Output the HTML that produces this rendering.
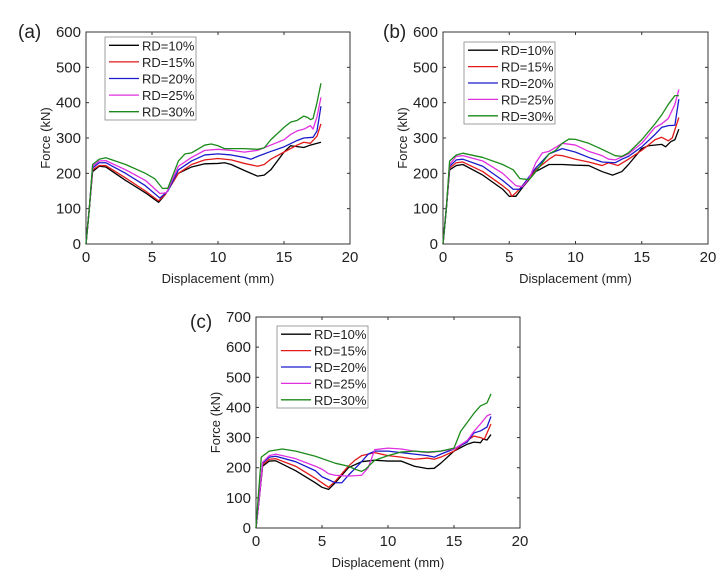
<!DOCTYPE html>
<html><head><meta charset="utf-8"><style>
body{margin:0;background:#fff;width:725px;height:577px;overflow:hidden}
svg text{font-family:"Liberation Sans",Arial,sans-serif;fill:#222}
</style></head><body>
<svg id="fig" width="725" height="577" xmlns="http://www.w3.org/2000/svg"></svg>
<script>
const xTicks=[0,5,10,15,20];
const yTicksAB=[0,100,200,300,400,500,600];
const yTicksC=[0,100,200,300,400,500,600,700];
const seriesNames=["RD=10%","RD=15%","RD=20%","RD=25%","RD=30%"];
const colors=["#000","#e21a1a","#1a1acc","#e030e0","#1a8a1a"];
const a10=[[0,0],[0.25,100],[0.5,205],[1,220],[1.5,218],[3,180],[4.5,145],[5.5,118],[6,140],[7,200],[8,218],[9,227],[10,228],[10.5,230],[11,225],[12,208],[13,192],[13.5,195],[14,210],[15,260],[15.5,278],[16.5,273],[17,280],[17.8,288]];
const a15=[[0,0],[0.25,100],[0.5,210],[1,222],[1.5,222],[3,187],[4.5,150],[5.5,122],[6,140],[7,200],[8,225],[9,238],[10,242],[11,238],[12,228],[13,220],[13.5,225],[14,240],[15,260],[16,280],[16.5,288],[17,285],[17.5,305],[17.8,340]];
const a20=[[0,0],[0.25,100],[0.5,215],[1,230],[1.5,230],[3,200],[4.5,165],[5.6,130],[6.2,150],[7,210],[8,235],[9,252],[10,255],[11,252],[12,245],[12.5,240],[13,248],[14,262],[15,275],[16,293],[16.5,300],[17.2,302],[17.5,320],[17.8,390]];
const a25=[[0,0],[0.25,100],[0.5,220],[1,235],[1.5,236],[3,210],[4.5,180],[5.6,143],[6.1,145],[7,220],[8,245],[9,265],[10,268],[11,265],[12,260],[13,265],[14,280],[15,295],[15.5,310],[16,320],[16.5,325],[17,335],[17.2,325],[17.5,360],[17.8,415]];
const a30=[[0,0],[0.25,100],[0.5,225],[1,240],[1.5,244],[3,225],[4.5,200],[5.2,185],[5.8,157],[6.2,158],[7,235],[7.5,255],[8,258],[9,280],[9.5,283],[10,278],[10.5,270],[12,270],[13,268],[13.5,272],[14,295],[15,330],[15.5,345],[16,350],[16.5,362],[16.8,358],[17,352],[17.2,355],[17.5,400],[17.8,455]];
const b10=[[0,0],[0.25,100],[0.5,210],[1,222],[1.5,225],[3,195],[4.5,155],[5,135],[5.5,135],[6,160],[7,205],[8,225],[9,225],[10,223],[11,222],[12,205],[12.8,195],[13.5,205],[14,225],[15,270],[15.5,278],[16.5,282],[16.8,275],[17.2,290],[17.5,295],[17.8,325]];
const b15=[[0,0],[0.25,100],[0.5,215],[1,230],[1.5,232],[3,205],[4.5,165],[5,150],[5.2,135],[5.5,145],[6,165],[7,210],[8,240],[8.5,252],[9,250],[10,240],[11,232],[12,222],[12.5,230],[13.2,222],[14,240],[15,265],[16,295],[16.5,302],[17,292],[17.3,300],[17.8,358]];
const b20=[[0,0],[0.25,100],[0.5,220],[1,238],[1.5,240],[3,220],[4.5,180],[5.3,155],[5.8,155],[6.5,190],[7,215],[8,255],[9,270],[10,260],[11,245],[12,232],[13,230],[13.5,240],[14,248],[15,275],[16,310],[16.5,330],[17,335],[17.5,336],[17.8,410]];
const b25=[[0,0],[0.25,100],[0.5,225],[1,248],[1.5,250],[3,235],[4.5,200],[5.5,165],[6,162],[6.5,185],[7,230],[7.5,258],[8,262],[9,285],[10,280],[11,262],[12,250],[12.5,240],[13,238],[14,255],[15,285],[16,330],[16.5,340],[17,355],[17.5,395],[17.8,437]];
const b30=[[0,0],[0.25,100],[0.5,235],[1,252],[1.5,257],[3,245],[4.5,225],[5.3,210],[5.8,185],[6.5,182],[7,205],[8,255],[8.5,265],[9,285],[9.5,297],[10,296],[11,285],[12,268],[13,250],[13.5,248],[14,258],[15,295],[16,340],[16.5,365],[17,395],[17.5,420],[17.8,420]];
const c10=[[0,0],[0.25,100],[0.5,205],[1,222],[1.5,223],[3,190],[4.5,150],[5,135],[5.5,128],[6,150],[7,200],[8,220],[9,225],[10,222],[11,222],[12,205],[13,197],[13.5,198],[14,215],[15,255],[16,278],[16.5,285],[17,283],[17.2,295],[17.5,292],[17.8,310]];
const c15=[[0,0],[0.25,100],[0.5,210],[1,228],[1.5,230],[3,205],[4.5,165],[5,150],[5.5,135],[6,155],[7,205],[7.5,225],[8,240],[9,250],[10,240],[11,235],[12,228],[13,232],[13.5,228],[14,235],[15,255],[16,290],[16.5,305],[17,300],[17.3,295],[17.8,345]];
const c20=[[0,0],[0.25,100],[0.5,215],[1,235],[1.5,238],[3,220],[4.5,190],[5,170],[5.5,160],[6,150],[6.5,150],[7,175],[8,220],[8.5,245],[9,255],[10,255],[11,250],[12,245],[13,240],[13.5,235],[14,245],[15,262],[16,285],[16.5,315],[17,322],[17.5,335],[17.8,370]];
const c25=[[0,0],[0.25,100],[0.5,218],[1,240],[1.5,245],[3,230],[4.5,205],[5,195],[5.5,180],[6,175],[7,172],[8,175],[8.5,200],[9,260],[10,265],[11,262],[12,255],[13,250],[13.5,252],[14,255],[15,262],[16,290],[16.5,320],[17,345],[17.5,372],[17.8,378]];
const c30=[[0,0],[0.2,120],[0.4,235],[1,255],[2,262],[3,255],[4.5,238],[6,215],[7,205],[7.5,195],[8,188],[8.3,195],[9,225],[10,240],[11,252],[12,255],[13,252],[14,255],[15,265],[15.5,320],[16,350],[16.5,380],[17,405],[17.5,415],[17.8,445]];

const NS="http://www.w3.org/2000/svg";
const svg=document.getElementById('fig');
function mk(tag,attrs,parent){const e=document.createElementNS(NS,tag);for(const k in attrs)e.setAttribute(k,attrs[k]);(parent||svg).appendChild(e);return e;}

function panel(id,label,L,T,R,B,ymax,yTicks,data,leg,labPos){
  const g=mk('g',{});
  
  
  const sx=v=>L+(v/20)*(R-L);
  const sy=v=>B-(v/ymax)*(B-T);
  const pl=mk('text',{x:labPos[0],y:labPos[1],'font-size':19},g);pl.textContent=label;
  
  
  const box=mk('rect',{x:L,y:T,width:R-L,height:B-T,fill:'none',stroke:'#333','stroke-width':1},g);
  
  
  xTicks.forEach(t=>{
    const x=sx(t);
    mk('line',{x1:x,x2:x,y1:B,y2:B-3,stroke:'#333'},g);
    mk('line',{x1:x,x2:x,y1:T,y2:T+3,stroke:'#333'},g);
    const tx=mk('text',{x:x,y:B+18,'font-size':15,'text-anchor':'middle'},g);tx.textContent=t;
    
    
  });
  yTicks.forEach(t=>{
    const y=sy(t);
    mk('line',{x1:L,x2:L+3,y1:y,y2:y,stroke:'#333'},g);
    mk('line',{x1:R,x2:R-3,y1:y,y2:y,stroke:'#333'},g);
    const tx=mk('text',{x:L-5,y:y+5,'font-size':15,'text-anchor':'end'},g);tx.textContent=t;
    
    
  });
  const xl=mk('text',{x:(L+R)/2,y:B+39,'font-size':13,'text-anchor':'middle'},g);xl.textContent='Displacement (mm)';
  
  
  const yx=L-36,yy=(T+B)/2;
  const yl=mk('text',{x:yx,y:yy,'font-size':13,'text-anchor':'middle',transform:`rotate(-90 ${yx} ${yy})`},g);yl.textContent='Force (kN)';
  
  
  data.forEach((s,i)=>{
    const p=mk('polyline',{points:s.map(d=>sx(d[0])+','+sy(d[1])).join(' '),fill:'none',stroke:colors[i],'stroke-width':1.3,'stroke-linejoin':'round'},g);
    
    
  });
  const lg=mk('g',{},g);
  
  
  mk('rect',{x:leg[0],y:leg[1],width:leg[2],height:leg[3],fill:'#fff',stroke:'#888','stroke-width':0.8},lg);
  const step=leg[3]/5;
  seriesNames.forEach((n,i)=>{
    const y=leg[1]+step*(i+0.5);
    mk('line',{x1:leg[0]+4,x2:leg[0]+34,y1:y,y2:y,stroke:colors[i],'stroke-width':1.3},lg);
    const t=mk('text',{x:leg[0]+37,y:y+5,'font-size':13},lg);t.textContent=n;
    
    
  });
}
panel('a','(a)',86,32,350,244,600,yTicksAB,[a10,a15,a20,a25,a30],[105,37,91,83],[18,38]);
panel('b','(b)',443,32,708,244,600,yTicksAB,[b10,b15,b20,b25,b30],[464,42,91,82],[383,38]);
panel('c','(c)',256,317,520,528,700,yTicksC,[c10,c15,c20,c25,c30],[277,326,91,82],[190,328]);
</script>
</body></html>
